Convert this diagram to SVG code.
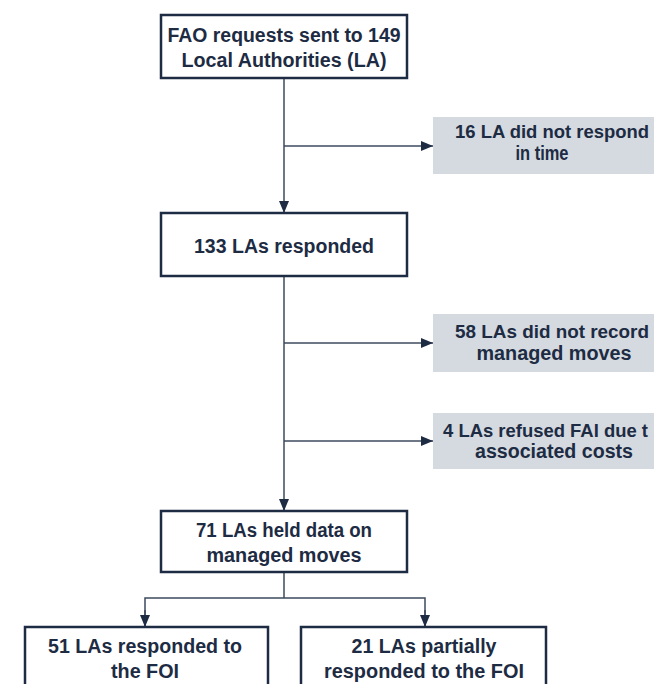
<svg xmlns="http://www.w3.org/2000/svg" width="654" height="684" viewBox="0 0 654 684">
<style>
.box{fill:#ffffff;stroke:#1d2b43;stroke-width:2.5}
.grey{fill:#d4dae0;stroke:none}
.t{font-family:"Liberation Sans",Arial,sans-serif;font-weight:bold;font-size:20px;fill:#1d2b43;text-anchor:middle}
.ts{font-family:"Liberation Sans",Arial,sans-serif;font-weight:bold;font-size:18.4px;fill:#1d2b43;text-anchor:start}
.c{fill:none;stroke:#3e4a5c;stroke-width:1.5}
</style>
<defs>
<marker id="ah" markerWidth="12" markerHeight="10" refX="12" refY="5" orient="auto" markerUnits="userSpaceOnUse">
<path d="M0,0 L12,5 L0,10 Z" fill="#1d2b43"/>
</marker>
</defs>
<rect width="654" height="684" fill="#ffffff"/>
<g id="connectors">
<line class="c" x1="284" y1="78" x2="284" y2="213" marker-end="url(#ah)"/>
<line class="c" x1="284" y1="146" x2="433" y2="146" marker-end="url(#ah)"/>
<line class="c" x1="284" y1="276" x2="284" y2="511" marker-end="url(#ah)"/>
<line class="c" x1="284" y1="343" x2="433" y2="343" marker-end="url(#ah)"/>
<line class="c" x1="284" y1="441" x2="433" y2="441" marker-end="url(#ah)"/>
<line class="c" x1="284" y1="572" x2="284" y2="598"/>
<polyline class="c" points="145,627 145,598 425,598 425,627"/>
<line class="c" x1="145" y1="610" x2="145" y2="627" marker-end="url(#ah)"/>
<line class="c" x1="425" y1="610" x2="425" y2="627" marker-end="url(#ah)"/>
</g>
<g id="n1">
<rect class="box" x="161" y="15" width="246" height="63"/>
<text class="t" x="284" y="42" textLength="233" lengthAdjust="spacingAndGlyphs">FAO requests sent to 149</text>
<text class="t" x="284" y="67" textLength="205" lengthAdjust="spacingAndGlyphs">Local Authorities (LA)</text>
</g>
<g id="n2">
<rect class="grey" x="433" y="117" width="221" height="57"/>
<text class="ts" x="455" y="138" textLength="194" lengthAdjust="spacingAndGlyphs">16 LA did not respond</text>
<text class="t" x="542" y="160" textLength="53" lengthAdjust="spacingAndGlyphs">in time</text>
</g>
<g id="n3">
<rect class="box" x="161" y="213" width="246" height="63"/>
<text class="t" x="284" y="253" textLength="180" lengthAdjust="spacingAndGlyphs">133 LAs responded</text>
</g>
<g id="n4">
<rect class="grey" x="433" y="314" width="221" height="58"/>
<text class="ts" x="455" y="338" textLength="194" lengthAdjust="spacingAndGlyphs">58 LAs did not record</text>
<text class="t" x="554" y="360" textLength="155" lengthAdjust="spacingAndGlyphs">managed moves</text>
</g>
<g id="n5">
<rect class="grey" x="433" y="413" width="221" height="56"/>
<text class="ts" x="443" y="437" textLength="205" lengthAdjust="spacingAndGlyphs">4 LAs refused FAI due t</text>
<text class="t" x="554" y="458" textLength="158" lengthAdjust="spacingAndGlyphs">associated costs</text>
</g>
<g id="n6">
<rect class="box" x="161" y="511" width="246" height="61"/>
<text class="t" x="284" y="537" textLength="176" lengthAdjust="spacingAndGlyphs">71 LAs held data on</text>
<text class="t" x="284" y="562" textLength="155" lengthAdjust="spacingAndGlyphs">managed moves</text>
</g>
<g id="n7">
<rect class="box" x="25" y="627" width="243" height="80"/>
<text class="t" x="145" y="653" textLength="194" lengthAdjust="spacingAndGlyphs">51 LAs responded to</text>
<text class="t" x="145" y="678" textLength="68" lengthAdjust="spacingAndGlyphs">the FOI</text>
</g>
<g id="n8">
<rect class="box" x="301" y="627" width="245" height="80"/>
<text class="t" x="424" y="653" textLength="145" lengthAdjust="spacingAndGlyphs">21 LAs partially</text>
<text class="t" x="424" y="678" textLength="200" lengthAdjust="spacingAndGlyphs">responded to the FOI</text>
</g>
</svg>
